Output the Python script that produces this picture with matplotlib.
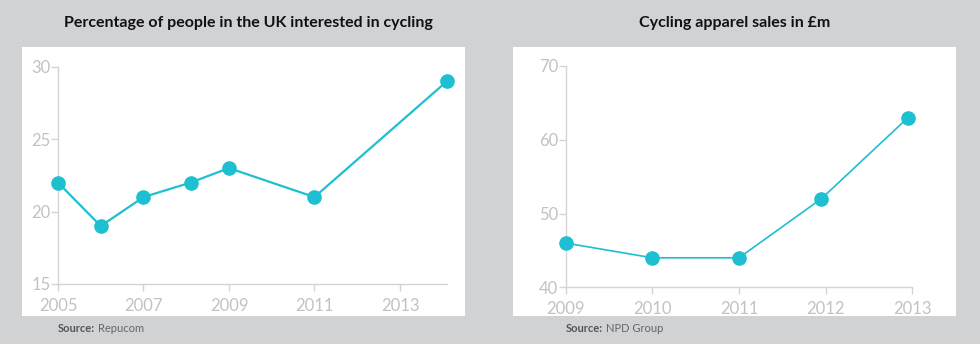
import matplotlib
matplotlib.use("Agg")
import matplotlib.pyplot as plt
from matplotlib.patches import Rectangle

# Left chart: % of people in the UK interested in cycling
interest_years = [2005, 2006, 2007, 2008.1, 2009, 2011, 2014.1]
interest_pct = [22, 19, 21, 22, 23, 21, 29]
interest_xticks = [2005, 2007, 2009, 2011, 2013]
interest_yticks = [15, 20, 25, 30]

# Right chart: cycling apparel sales in £m
sales_years = [2009, 2010, 2011, 2011.95, 2012.95]
sales_gbp = [46, 44, 44, 52, 63]
sales_xticks = [2009, 2010, 2011, 2012, 2013]
sales_yticks = [40, 50, 60, 70]

BG = "#d1d2d4"
LINE = "#1ebfd0"
AXIS = "#d4d4d4"
TICK_TXT = "#c2c2c2"
FONT = "Lato"

plt.rcParams["font.family"] = [FONT, "DejaVu Sans"]

fig = plt.figure(figsize=(9.8, 3.44), dpi=100, facecolor=BG)
W, H = 980, 344


def px_box(x0, y0, x1, y1):
    return [x0 / W, 1 - y1 / H, (x1 - x0) / W, (y1 - y0) / H]


# white panels
for x0, x1 in [(22, 465), (513, 956)]:
    b = px_box(x0, 47, x1, 316)
    fig.add_artist(Rectangle((b[0], b[1]), b[2], b[3], transform=fig.transFigure,
                             facecolor="white", edgecolor="none", zorder=0))


def style(ax, xs, ys, xticks, yticks, lw):
    ax.set_facecolor("none")
    ax.plot(xs, ys, color=LINE, lw=lw, marker="o", ms=9.5, clip_on=False, zorder=3)
    ax.set_xlim(xs[0], max(xs[-1], xticks[-1]))
    ax.set_ylim(yticks[0], yticks[-1])
    ax.set_xticks(xticks)
    ax.set_yticks(yticks)
    ax.set_xticklabels([str(t) for t in xticks])
    for s in ["top", "right"]:
        ax.spines[s].set_visible(False)
    for s in ["left", "bottom"]:
        ax.spines[s].set_color(AXIS)
        ax.spines[s].set_linewidth(1)
    ax.tick_params(colors=AXIS, labelcolor=TICK_TXT, labelsize=12, length=5, width=1)
    ax.tick_params(axis="x", pad=5)
    ax.tick_params(axis="y", pad=0.5)


ax1 = fig.add_axes(px_box(58, 66.7, 447, 284))
style(ax1, interest_years, interest_pct, interest_xticks, interest_yticks, 1.6)
ax2 = fig.add_axes(px_box(565.7, 66, 912.3, 287.3))
style(ax2, sales_years, sales_gbp, sales_xticks, sales_yticks, 1.2)

fig.text(248.5 / W, 1 - 23 / H, "Percentage of people in the UK interested in cycling",
         ha="center", va="center", fontsize=11.5, fontweight="bold", color="#111111")
fig.text(734.5 / W, 1 - 23 / H, "Cycling apparel sales in £m",
         ha="center", va="center", fontsize=11.5, fontweight="bold", color="#111111")

for x, src in [(58, "Repucom"), (566, "NPD Group")]:
    t = fig.text(x / W, 1 - 329 / H, "Source:", ha="left", va="center",
                 fontsize=8, fontweight="bold", color="#555555")
    fig.canvas.draw()
    bb = t.get_window_extent()
    fig.text((bb.x1 + 3) / W, 1 - 329 / H, src, ha="left", va="center",
             fontsize=8, color="#666666")

fig.savefig("out.png", dpi=100, facecolor=BG)
